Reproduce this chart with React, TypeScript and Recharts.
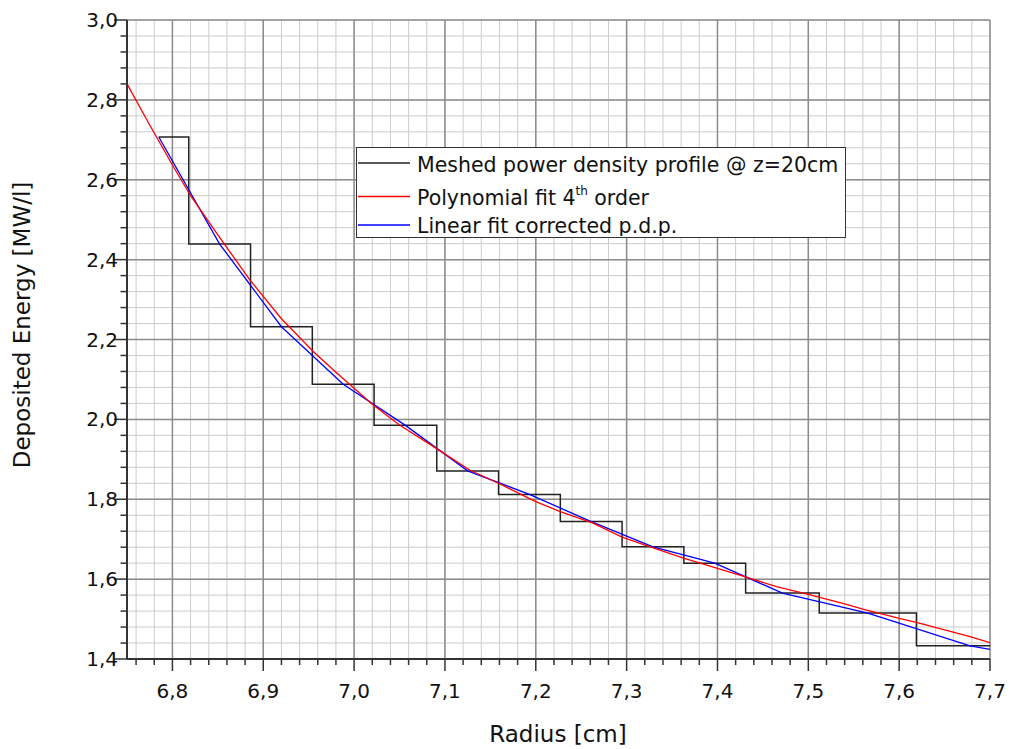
import React from "react"
import { CartesianGrid, Line, LineChart, ReferenceLine, XAxis, YAxis } from "recharts"

// meshed power density profile (step edges in cm, value of each step in MW/l)
const stepEdges = [6.785, 6.818, 6.886, 6.954, 7.022, 7.091, 7.159, 7.227, 7.295, 7.363, 7.431, 7.512, 7.619, 7.7]
const stepValues = [2.707, 2.439, 2.232, 2.088, 1.985, 1.871, 1.812, 1.744, 1.681, 1.64, 1.565, 1.515, 1.433]

// polynomial fit 4th order
const polyX = [6.75, 6.775, 6.8, 6.82, 6.85, 6.885, 6.92, 6.955, 6.98, 7.02, 7.05, 7.09, 7.128, 7.159, 7.2, 7.227, 7.263, 7.295, 7.326, 7.3635, 7.4, 7.43, 7.465, 7.5, 7.54, 7.56, 7.6, 7.62, 7.678, 7.7]
const polyY = [2.84, 2.737, 2.637, 2.56, 2.462, 2.35, 2.252, 2.17, 2.118, 2.038, 1.986, 1.928, 1.872, 1.84, 1.794, 1.769, 1.74, 1.705, 1.681, 1.652, 1.627, 1.606, 1.581, 1.562, 1.538, 1.525, 1.502, 1.491, 1.456, 1.441]

// linear fit corrected p.d.p.
const linX = [6.785, 6.852, 6.92, 6.988, 7.0565, 7.125, 7.193, 7.261, 7.329, 7.397, 7.4715, 7.5655, 7.678, 7.7]
const linY = [2.707, 2.439, 2.232, 2.088, 1.985, 1.871, 1.812, 1.744, 1.681, 1.64, 1.565, 1.515, 1.433, 1.424]

const xMajor = [6.8, 6.9, 7.0, 7.1, 7.2, 7.3, 7.4, 7.5, 7.6, 7.7]
const yMajor = [1.4, 1.6, 1.8, 2.0, 2.2, 2.4, 2.6, 2.8, 3.0]

const xTicks: number[] = []
for (let i = 0; i <= 47; i++) xTicks.push(Math.round((6.76 + i * 0.02) * 100) / 100)
const yTicks: number[] = []
for (let i = 0; i <= 40; i++) yTicks.push(Math.round((1.4 + i * 0.04) * 100) / 100)

const stepData = stepEdges.map((x, i) => ({ x, y: stepValues[Math.min(i, stepValues.length - 1)] }))
const polyData = polyX.map((x, i) => ({ x, y: polyY[i] }))
const linData = linX.map((x, i) => ({ x, y: linY[i] }))

const font = "DejaVu Sans, Verdana, sans-serif"
const fmt = (v: number) => v.toFixed(1).replace(".", ",")
const isMajor = (v: number, list: number[]) => list.some((m) => Math.abs(m - v) < 1e-6)

const XTick = (props: any) => {
  const { x, y, payload } = props
  const major = isMajor(payload.value, xMajor)
  return (
    <g>
      <line x1={x} y1={y} x2={x} y2={y + (major ? 12 : 6)} stroke="#333" strokeWidth={1.5} />
      {major && (
        <text x={x} y={y + 39} textAnchor="middle" fontSize={20} fontFamily={font} fill="#111">
          {fmt(payload.value)}
        </text>
      )}
    </g>
  )
}

const YTick = (props: any) => {
  const { x, y, payload } = props
  const major = isMajor(payload.value, yMajor)
  return (
    <g>
      <line x1={x - (major ? 13 : 6.5)} y1={y} x2={x} y2={y} stroke="#333" strokeWidth={1.5} />
      {major && (
        <text x={x - 9} y={y + 7} textAnchor="end" fontSize={20} fontFamily={font} fill="#111">
          {fmt(payload.value)}
        </text>
      )}
    </g>
  )
}

function LegendBox() {
  return (
    <div
      style={{
        position: "absolute",
        left: 356,
        top: 147,
        width: 490,
        height: 91,
        boxSizing: "border-box",
        border: "1.5px solid #333",
        background: "#fff",
      }}
    >
      <svg width={488} height={88} style={{ display: "block" }}>
        <line x1={1} x2={53} y1={15} y2={15} stroke="#222" strokeWidth={1.3} />
        <text x={60} y={23.5} fontSize={20.5} fontFamily={font} fill="#111">
          Meshed power density profile @ z=20cm
        </text>
        <line x1={1} x2={53} y1={48.5} y2={48.5} stroke="#ff0000" strokeWidth={1.3} />
        <text x={60} y={57} fontSize={20.5} fontFamily={font} fill="#111">
          Polynomial fit 4<tspan fontSize={12} dy={-10}>th</tspan>
          <tspan dy={10}> order</tspan>
        </text>
        <line x1={1} x2={53} y1={77} y2={77} stroke="#0000ff" strokeWidth={1.3} />
        <text x={60} y={84.5} fontSize={20.5} fontFamily={font} fill="#111">
          Linear fit corrected p.d.p.
        </text>
      </svg>
    </div>
  )
}

export default function App() {
  return (
    <div style={{ position: "absolute", left: 0, top: 0, width: 1010, height: 749, background: "#fff" }}>
      <LineChart width={1010} height={749} margin={{ top: 20, right: 20, bottom: 0, left: 0 }}>
        <CartesianGrid stroke="#cccccc" strokeWidth={1} />
        {xMajor.map((v) => (
          <ReferenceLine key={"gx" + v} x={v} stroke="#8c8c8c" strokeWidth={1.5} />
        ))}
        {yMajor.map((v) => (
          <ReferenceLine key={"gy" + v} y={v} stroke="#8c8c8c" strokeWidth={1.5} />
        ))}
        <XAxis
          type="number"
          dataKey="x"
          domain={[6.75, 7.7]}
          ticks={xTicks}
          interval={0}
          height={90}
          tickSize={0}
          tickMargin={0}
          tickLine={false}
          tick={<XTick />}
          axisLine={{ stroke: "#333", strokeWidth: 2 }}
          allowDataOverflow
          label={{
            content: () => (
              <text x={558} y={742} textAnchor="middle" fontSize={23} fontFamily={font} fill="#111">
                Radius [cm]
              </text>
            ),
          }}
        />
        <YAxis
          type="number"
          dataKey="y"
          domain={[1.4, 3.0]}
          ticks={yTicks}
          interval={0}
          width={127}
          tickSize={0}
          tickMargin={0}
          tickLine={false}
          tick={<YTick />}
          axisLine={{ stroke: "#333", strokeWidth: 2 }}
          allowDataOverflow
          label={{
            content: () => (
              <text
                transform="translate(30,325) rotate(-90)"
                textAnchor="middle"
                fontSize={23}
                fontFamily={font}
                fill="#111"
              >
                Deposited Energy [MW/l]
              </text>
            ),
          }}
        />
        <Line
          data={stepData}
          dataKey="y"
          type="stepAfter"
          stroke="#222"
          strokeWidth={1.5}
          dot={false}
          isAnimationActive={false}
        />
        <Line
          data={linData}
          dataKey="y"
          type="linear"
          stroke="#0000ff"
          strokeWidth={1.3}
          dot={false}
          isAnimationActive={false}
        />
        <Line
          data={polyData}
          dataKey="y"
          type="linear"
          stroke="#ff0000"
          strokeWidth={1.3}
          dot={false}
          isAnimationActive={false}
        />
      </LineChart>
      <LegendBox />
    </div>
  )
}
